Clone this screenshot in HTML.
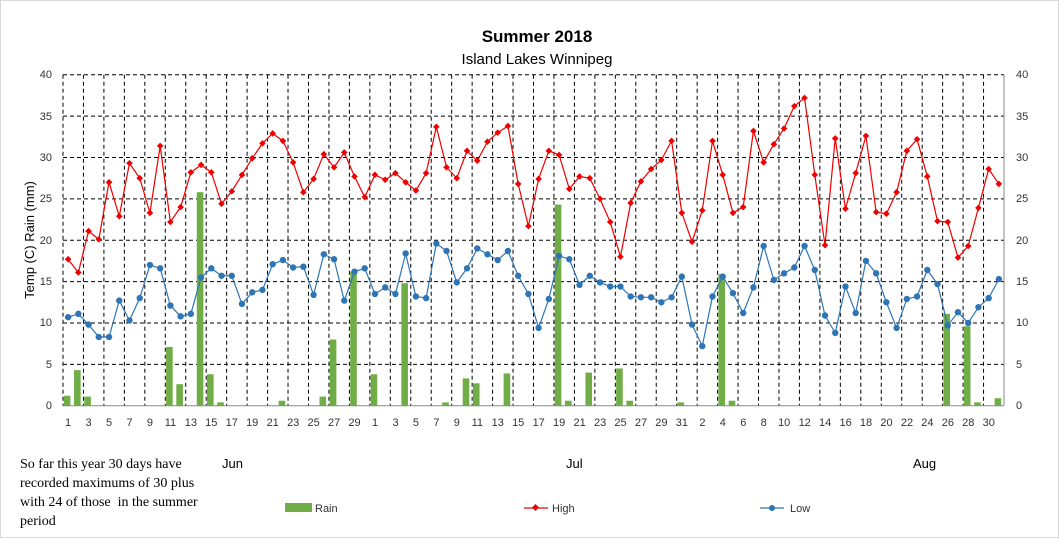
<!DOCTYPE html>
<html><head><meta charset="utf-8"><style>
body{margin:0;background:#fff;}
svg{display:block;font-family:"Liberation Sans",sans-serif;}
.t{font-size:11px;fill:#333}
.s{font-family:"Liberation Serif",serif;font-size:14px;fill:#000}
</style></head><body>
<svg id="c" width="1059" height="538" viewBox="0 0 1059 538" xmlns="http://www.w3.org/2000/svg">
<rect x="0.5" y="0.5" width="1058" height="537" fill="#fff" stroke="#d9d9d9"/>
<text x="537" y="42" text-anchor="middle" font-size="17" font-weight="bold" fill="#000">Summer 2018</text>
<text x="537" y="64" text-anchor="middle" font-size="15" fill="#000">Island Lakes Winnipeg</text>
<text transform="translate(34,240) rotate(-90)" text-anchor="middle" font-size="13" fill="#000">Temp (C) Rain (mm)</text>
<g id="grid"></g>
<g class="t" text-anchor="end">
<text x="52" y="78">40</text><text x="52" y="120">35</text><text x="52" y="161">30</text><text x="52" y="202">25</text><text x="52" y="244">20</text><text x="52" y="285">15</text><text x="52" y="326">10</text><text x="52" y="368">5</text><text x="52" y="409">0</text>
</g>
<g class="t">
<text x="1016" y="78">40</text><text x="1016" y="120">35</text><text x="1016" y="161">30</text><text x="1016" y="202">25</text><text x="1016" y="244">20</text><text x="1016" y="285">15</text><text x="1016" y="326">10</text><text x="1016" y="368">5</text><text x="1016" y="409">0</text>
</g>
<g class="t" text-anchor="middle">
<text x="68.1" y="426">1</text><text x="88.6" y="426">3</text><text x="109.0" y="426">5</text><text x="129.5" y="426">7</text><text x="149.9" y="426">9</text><text x="170.4" y="426">11</text><text x="190.9" y="426">13</text><text x="211.3" y="426">15</text><text x="231.8" y="426">17</text><text x="252.2" y="426">19</text><text x="272.7" y="426">21</text><text x="293.2" y="426">23</text><text x="313.6" y="426">25</text><text x="334.1" y="426">27</text><text x="354.5" y="426">29</text>
<text x="375.0" y="426">1</text><text x="395.5" y="426">3</text><text x="415.9" y="426">5</text><text x="436.4" y="426">7</text><text x="456.8" y="426">9</text><text x="477.3" y="426">11</text><text x="497.8" y="426">13</text><text x="518.2" y="426">15</text><text x="538.7" y="426">17</text><text x="559.1" y="426">19</text><text x="579.6" y="426">21</text><text x="600.1" y="426">23</text><text x="620.5" y="426">25</text><text x="641.0" y="426">27</text><text x="661.4" y="426">29</text><text x="681.9" y="426">31</text>
<text x="702.4" y="426">2</text><text x="722.8" y="426">4</text><text x="743.3" y="426">6</text><text x="763.7" y="426">8</text><text x="784.2" y="426">10</text><text x="804.7" y="426">12</text><text x="825.1" y="426">14</text><text x="845.6" y="426">16</text><text x="866.0" y="426">18</text><text x="886.5" y="426">20</text><text x="907.0" y="426">22</text><text x="927.4" y="426">24</text><text x="947.9" y="426">26</text><text x="968.3" y="426">28</text><text x="988.8" y="426">30</text>
</g>
<g font-size="13" fill="#000">
<text x="222" y="468">Jun</text><text x="566" y="468">Jul</text><text x="913" y="468">Aug</text>
</g>
<text class="s" x="20" y="468">So far this year 30 days have</text>
<text class="s" x="20" y="487">recorded maximums of 30 plus</text>
<text class="s" x="20" y="506">with 24 of those&#160; in the summer</text>
<text class="s" x="20" y="525">period</text>
<rect x="285" y="503" width="27" height="9" fill="#70ad47"/>
<text x="315" y="512" font-size="11" fill="#333">Rain</text>
<line x1="524" y1="508" x2="548" y2="508" stroke="#e00" stroke-width="1.2"/>
<rect x="533" y="505" width="5" height="5" fill="#e00" transform="rotate(45 535.5 507.5)"/>
<text x="552" y="512" font-size="11" fill="#333">High</text>
<line x1="760" y1="508" x2="784" y2="508" stroke="#2e75b6" stroke-width="1.2"/>
<circle cx="772" cy="508" r="3" fill="#2e75b6"/>
<text x="790" y="512" font-size="11" fill="#333">Low</text>
<g id="data"></g>
</svg>
<script>
var hi=[17.7,16.1,21.1,20.1,27.0,22.9,29.3,27.5,23.3,31.4,22.2,24.0,28.2,29.1,28.2,24.4,25.9,27.9,29.9,31.7,32.9,32.0,29.4,25.8,27.4,30.4,28.8,30.6,27.7,25.2,
27.9,27.3,28.1,27.0,26.0,28.1,33.7,28.8,27.5,30.8,29.6,31.9,33.0,33.8,26.8,21.7,27.4,30.8,30.3,26.2,27.7,27.5,25.0,22.2,18.0,24.5,27.1,28.6,29.7,32.0,23.3,
19.8,23.6,32.0,27.9,23.3,24.0,33.2,29.4,31.6,33.5,36.2,37.2,27.9,19.4,32.3,23.8,28.1,32.6,23.4,23.2,25.8,30.8,32.2,27.7,22.3,22.2,17.9,19.3,23.9,28.6,26.8];
var lo=[10.7,11.1,9.8,8.3,8.3,12.7,10.3,13.0,17.0,16.6,12.1,10.8,11.1,15.5,16.6,15.7,15.7,12.3,13.7,14.0,17.1,17.6,16.7,16.8,13.4,18.3,17.7,12.7,16.2,16.6,
13.5,14.3,13.5,18.4,13.2,13.0,19.6,18.7,14.9,16.6,19.0,18.3,17.6,18.7,15.7,13.5,9.4,12.9,18.1,17.7,14.6,15.7,14.9,14.4,14.4,13.2,13.1,13.1,12.5,13.1,15.6,
9.8,7.2,13.2,15.6,13.6,11.2,14.3,19.3,15.2,16.0,16.7,19.3,16.4,10.9,8.8,14.4,11.2,17.5,16.0,12.5,9.4,12.9,13.2,16.4,14.7,9.7,11.3,10.0,11.9,13.0,15.3];
var rain={0:1.2,1:4.3,2:1.1,10:7.1,11:2.6,13:25.8,14:3.8,15:0.4,21:0.6,25:1.1,26:8.0,28:16.2,
30:3.8,33:14.8,37:0.4,39:3.3,40:2.7,43:3.9,48:24.3,49:0.6,51:4.0,54:4.5,55:0.6,60:0.4,
64:15.9,65:0.6,86:11.1,88:9.6,89:0.4,91:0.9};
var L=63,R=1004,T=74.7,B=405.7,w=(R-L)/92;
function X(i){return L+w*(i+0.5);}function Y(v){return B-v*(B-T)/40;}
var g='';
for(var v=5;v<=40;v+=5)g+='<line x1="'+L+'" x2="'+R+'" y1="'+Y(v)+'" y2="'+Y(v)+'" stroke="#000" stroke-dasharray="4,3" stroke-width="1"/>';
for(var k=0;k<46;k++){var x=L+2*w*k;g+='<line x1="'+x+'" x2="'+x+'" y1="'+T+'" y2="'+B+'" stroke="#000" stroke-dasharray="4,3" stroke-width="1"/>';}
g+='<line x1="'+L+'" x2="'+R+'" y1="'+B+'" y2="'+B+'" stroke="#888"/>';
g+='<line x1="'+R+'" x2="'+R+'" y1="'+T+'" y2="'+B+'" stroke="#888"/>';
document.getElementById('grid').innerHTML=g;
var d='';
for(var i in rain){var x=X(+i)-1;d+='<rect x="'+(x-3.3)+'" y="'+Y(rain[i])+'" width="6.6" height="'+(B-Y(rain[i]))+'" fill="#70ad47"/>';}
var p1=hi.map(function(v,i){return X(i)+','+Y(v)}).join(' ');
var p2=lo.map(function(v,i){return X(i)+','+Y(v)}).join(' ');
d+='<polyline points="'+p2+'" fill="none" stroke="#2e75b6" stroke-width="1.2"/>';
lo.forEach(function(v,i){d+='<circle cx="'+X(i)+'" cy="'+Y(v)+'" r="3.2" fill="#2e75b6"/>';});
d+='<polyline points="'+p1+'" fill="none" stroke="#e00" stroke-width="1.2"/>';
hi.forEach(function(v,i){var x=X(i),y=Y(v);d+='<path d="M'+x+','+(y-3.3)+'L'+(x+3.3)+','+y+'L'+x+','+(y+3.3)+'L'+(x-3.3)+','+y+'Z" fill="#e00"/>';});
document.getElementById('data').innerHTML=d;
</script>
</body></html>
